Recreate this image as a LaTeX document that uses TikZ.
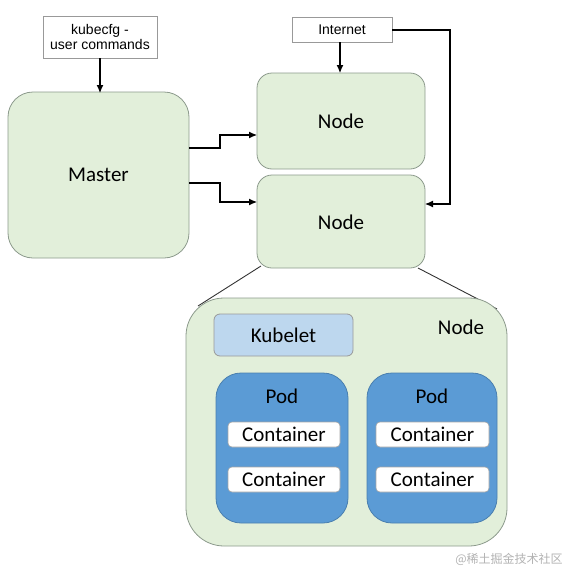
\documentclass[tikz,border=0pt]{standalone}
\usepackage{fontspec}
\setmainfont{Carlito}
\newfontfamily\arialf{Liberation Sans}
\newfontfamily\cjkf{Noto Sans CJK SC}
\usetikzlibrary{arrows.meta}
\definecolor{ngreen}{HTML}{E2EFDA}
\definecolor{nborder}{HTML}{8C9A8C}
\definecolor{kblue}{HTML}{BDD7EE}
\definecolor{podblue}{HTML}{5B9BD5}
\definecolor{podborder}{HTML}{4A7FAF}
\tikzset{
  greenbox/.style={draw=nborder, fill=ngreen, line width=0.8pt},
  labelbox/.style={draw=gray!80, fill=white, line width=0.8pt, font=\arialf\fontsize{14}{16}\selectfont, align=center, inner sep=0pt},
  txt/.style={font=\fontsize{21}{24}\selectfont},
  conn/.style={draw=black, line width=1.1pt, -{Latex[length=8pt,width=7pt]}},
  cont/.style={draw=gray!70, fill=white, rounded corners=4pt, line width=0.6pt, minimum width=112pt, minimum height=25pt, inner sep=0pt, font=\fontsize{21}{24}\selectfont},
}
\begin{document}
\begin{tikzpicture}[x=1pt,y=-1pt]
\useasboundingbox (0,0) rectangle (570,573);
% boxes
\draw[greenbox, rounded corners=25pt] (8,92) rectangle (189,258);
\node[txt] (master) at (98.5,175) {Master};
\draw[greenbox, rounded corners=15pt] (257,73) rectangle (425,169);
\node[txt] (n1) at (341,121) {Node};
\draw[greenbox, rounded corners=15pt] (257,175) rectangle (425,268);
\node[txt] (n2) at (341,222) {Node};
\node[labelbox, minimum width=114pt, minimum height=42pt] (kube) at (100,37) {kubecfg -\\[-1pt]user commands};
\node[labelbox, minimum width=100pt, minimum height=25pt] (inet) at (342,29.5) {Internet};
% coordinates
\coordinate (mtop) at (100,93);
\coordinate (n1top) at (340,73);
\coordinate (m1) at (189,148);
\coordinate (m2) at (189,183);
\coordinate (n1l) at (257,135);
\coordinate (n2l) at (257,202);
\coordinate (n2r) at (425,204);
\coordinate (ir) at (392,30);
% connectors
\draw[conn] (kube.south) -- (mtop);
\draw[conn] (inet.south -| n1top) -- (n1top);
\draw[conn] (m1) -- (220,148) -- (220,135) -- (n1l);
\draw[conn] (m2) -- (220,183) -- (220,202) -- (n2l);
\draw[conn] (ir) -- (450,30) -- (450,204) -- (n2r);
% zoom lines
\coordinate (zl1) at (261,266);
\coordinate (zl2) at (198,306);
\coordinate (zr1) at (418,268);
\coordinate (zr2) at (497,309);
\draw[line width=0.9pt, draw=black!80] (zl1) -- (zl2);
\draw[line width=0.9pt, draw=black!80] (zr1) -- (zr2);
% big node
\draw[greenbox, rounded corners=38pt] (186,298) rectangle (507,546);
\node[txt] (bign) at (461,327) {Node};
\draw[draw=gray!80, fill=kblue, rounded corners=6pt, line width=0.8pt] (214,314) rectangle (353,356);
\node[txt] (kubelet) at (283.5,335) {Kubelet};
% pods
\draw[draw=podborder, fill=podblue, rounded corners=25pt, line width=0.8pt] (216,373) rectangle (348,523);
\node[txt] (pod1) at (282,396) {Pod};
\draw[draw=podborder, fill=podblue, rounded corners=25pt, line width=0.8pt] (367,373) rectangle (497,523);
\node[txt] (pod2) at (432,396) {Pod};
\node[cont] (c11) at (284,434.5) {Container};
\node[cont] (c12) at (284,479.5) {Container};
\node[cont, minimum width=113pt] (c21) at (432.5,434.5) {Container};
\node[cont, minimum width=113pt] (c22) at (432.5,479.5) {Container};
% watermark
\node[font=\cjkf\fontsize{12}{14}\selectfont, text=gray!60] (wm) at (509,559) {@稀土掘金技术社区};
\end{tikzpicture}
\end{document}
